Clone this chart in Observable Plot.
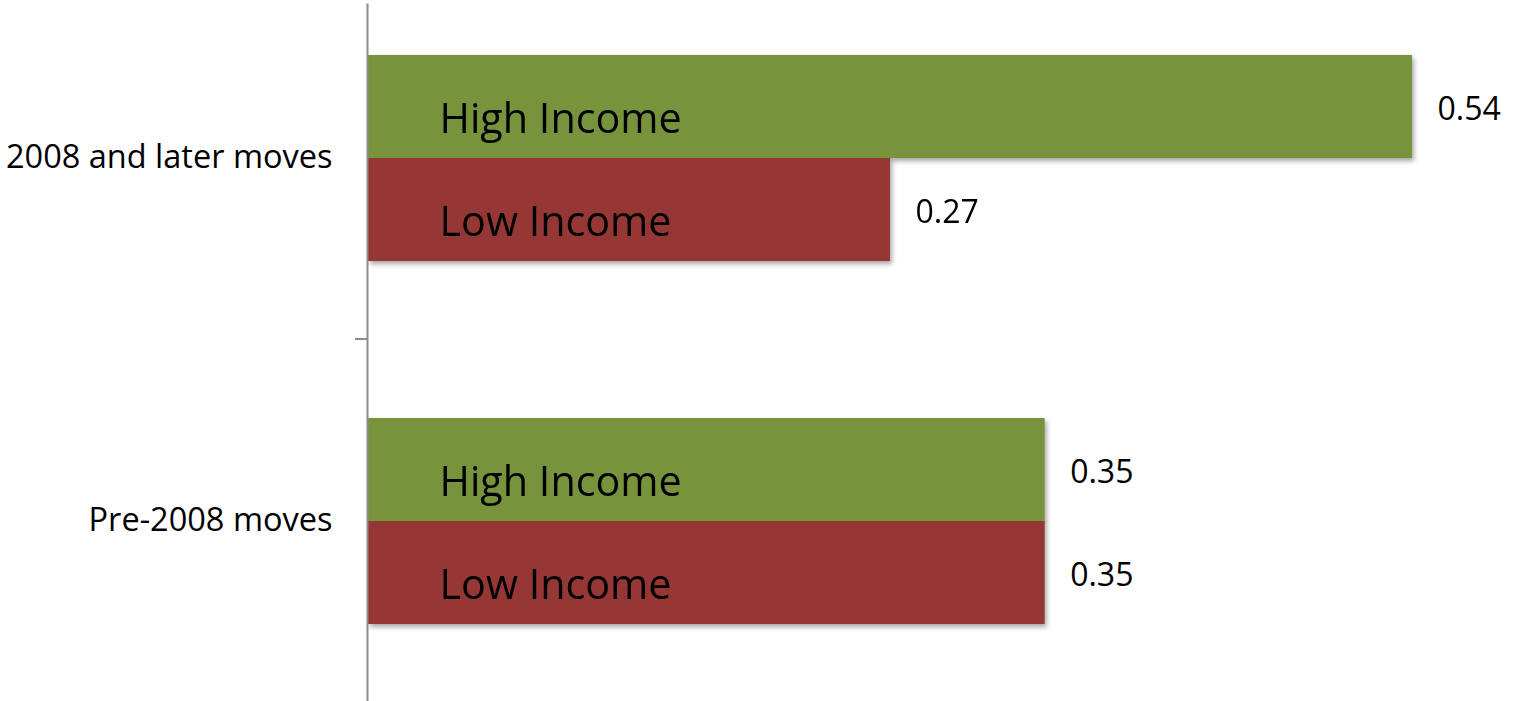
<!DOCTYPE html>
<html>
<head>
<meta charset="utf-8">
<script src="https://cdn.jsdelivr.net/npm/d3@7"></script>
<script src="https://cdn.jsdelivr.net/npm/@observablehq/plot@0.6"></script>
<style>
  html, body { margin: 0; padding: 0; background: #fff; }
  svg g[aria-label="bar"] { filter: drop-shadow(2px 3px 2.5px rgba(0,0,0,0.35)); }
</style>
</head>
<body>
<div id="chart"></div>
<script>
const groups = ["2008 and later moves", "Pre-2008 moves"];
const incomes = ["High Income", "Low Income"];
const highIncomeValues = [0.54, 0.35];
const lowIncomeValues = [0.27, 0.35];
const colors = ["#77933C", "#953735"];

const rows = [];
groups.forEach((g, i) => {
  rows.push({group: g, income: incomes[0], value: highIncomeValues[i]});
  rows.push({group: g, income: incomes[1], value: lowIncomeValues[i]});
});
const fmt = d3.format(".2f");

const chart = Plot.plot({
  width: 1528,
  height: 701,
  marginLeft: 368,
  marginRight: 0,
  marginTop: 3,
  marginBottom: 0,
  style: {fontFamily: "'Open Sans', sans-serif", color: "black", background: "white"},
  x: {domain: [0, 0.6], axis: null},
  y: {domain: incomes, padding: 0, axis: null},
  fy: {domain: groups, paddingInner: 0.42857, paddingOuter: 0.1731, align: 0.397, label: null},
  color: {domain: incomes, range: colors},
  marks: [
    Plot.barX(rows, {x: "value", y: "income", fy: "group", fill: "income"}),
    Plot.text(rows, {x: 0, y: "income", fy: "group", text: "income", textAnchor: "start", dx: 71, dy: 13, fontSize: 41.3, fill: "black"}),
    Plot.text(rows, {x: "value", y: "income", fy: "group", text: d => fmt(d.value), textAnchor: "start", dx: 25, dy: 3, fontSize: 32, fill: "black"}),
    Plot.frame({anchor: "left", facet: "super", stroke: "#8c8c8c", strokeWidth: 2, dx: -1, insetTop: -50, insetBottom: -80}),
    Plot.axisFy({anchor: "left", tickSize: 0, tickPadding: 36, label: null, fontSize: 32.5, fill: "black"}),
    Plot.axisFy({anchor: "left", ticks: ["Pre-2008 moves"], tickSize: 12, tickFormat: () => "", dy: -182, dx: -1, stroke: "#8c8c8c", strokeWidth: 2, label: null})
  ]
});
document.getElementById("chart").appendChild(chart);
</script>
</body>
</html>
